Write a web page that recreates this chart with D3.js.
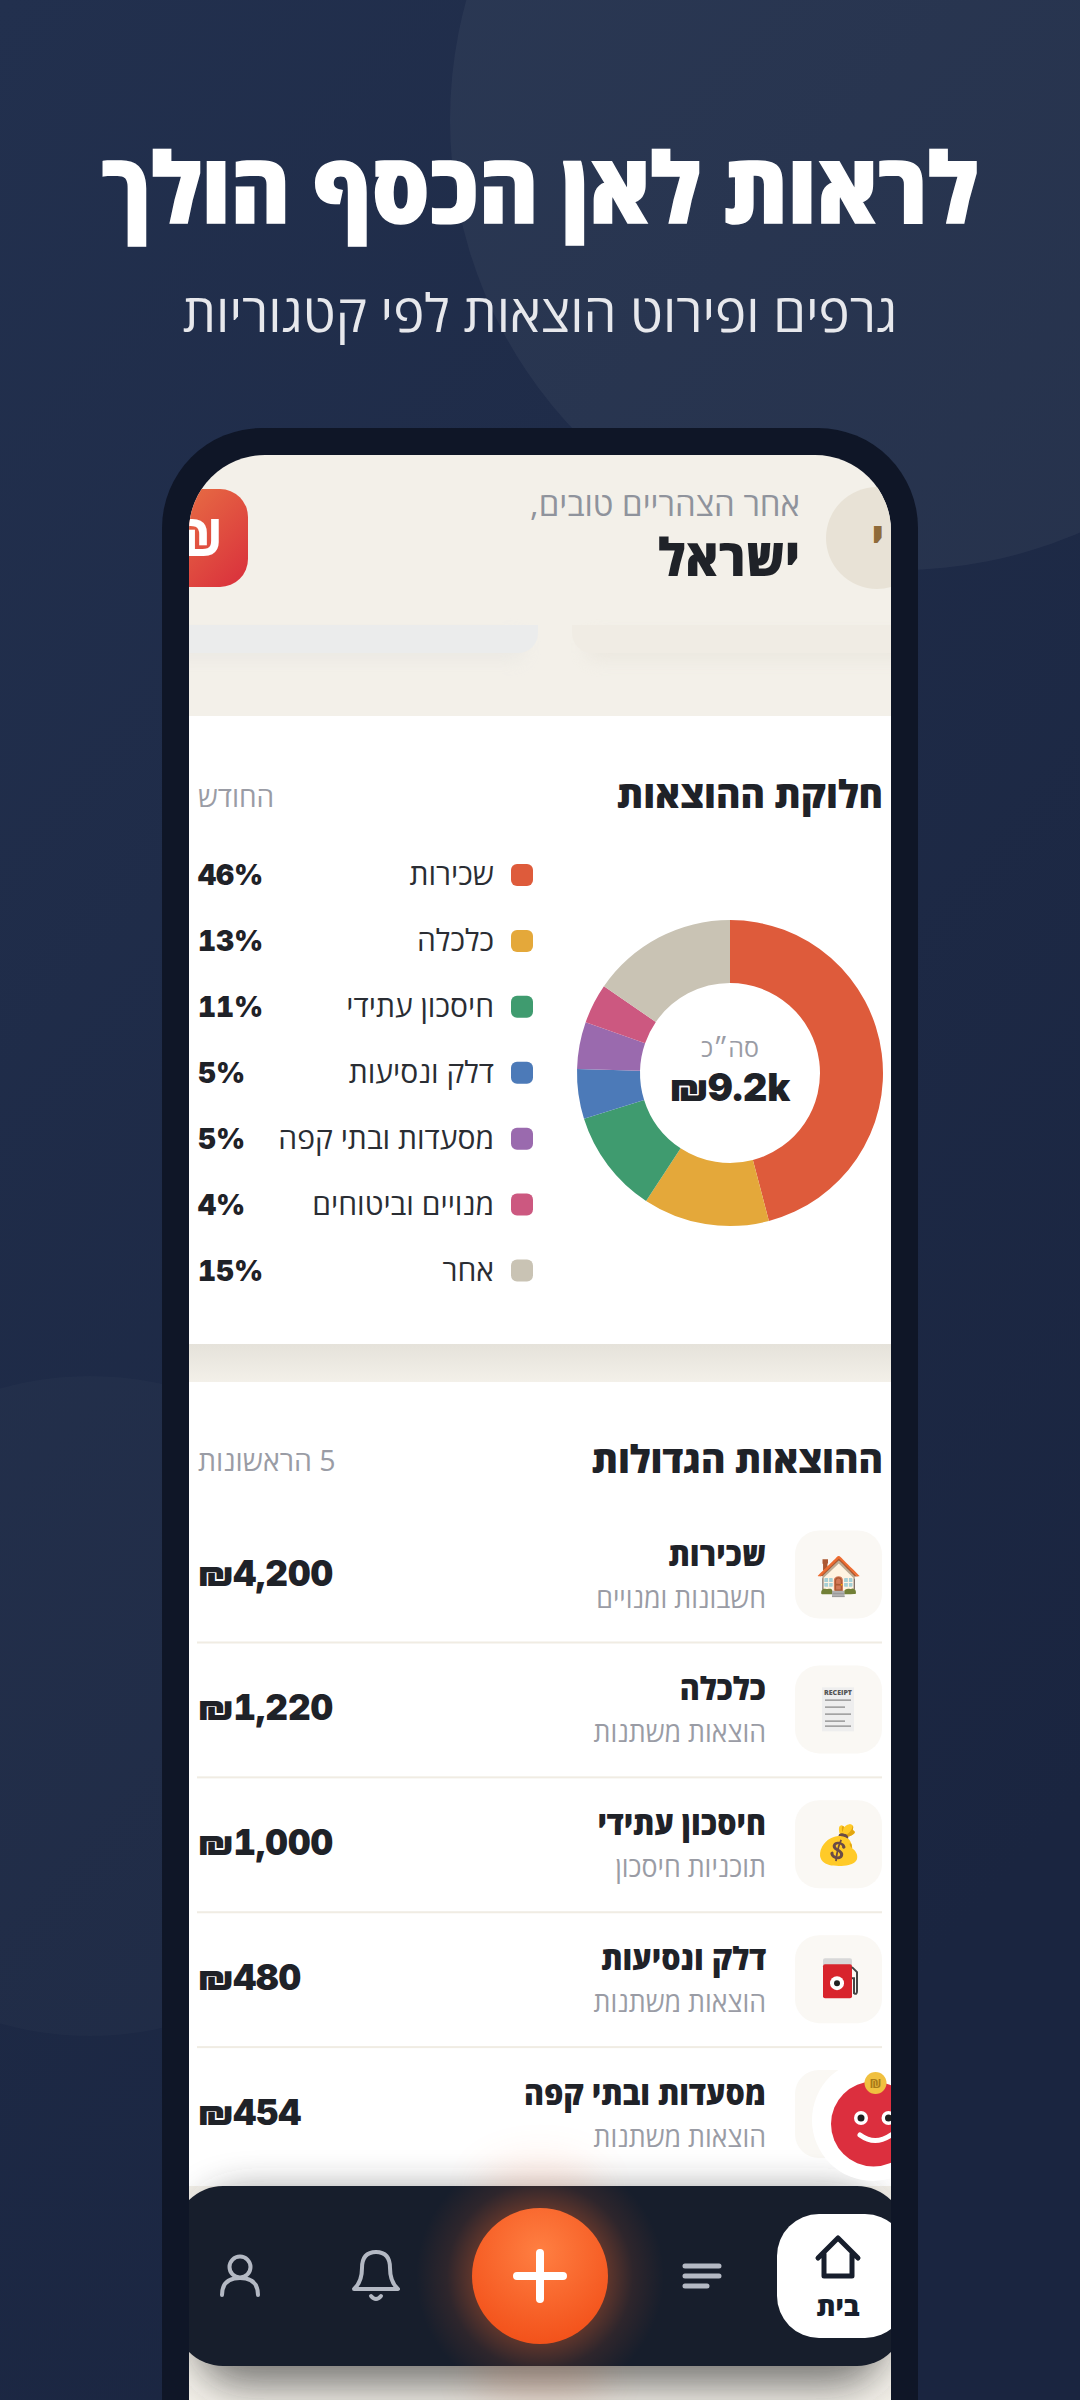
<!DOCTYPE html>
<html lang="he"><head><meta charset="utf-8">
<script src="https://cdn.jsdelivr.net/npm/d3@7/dist/d3.min.js"></script>
<style>html,body{margin:0;padding:0;background:#1c2743}svg{display:block}text{font-family:"Open Sans","Liberation Sans",sans-serif}.num{font-family:Inter,"Open Sans",sans-serif;font-weight:900;font-variant-numeric:tabular-nums}</style>
</head><body><div id="chart"></div>
<script>
const titleText="לראות לאן הכסף הולך";
const subtitleText="גרפים ופירוט הוצאות לפי קטגוריות";
const greetingText="אחר הצהריים טובים,";
const userName="ישראל";
const donutTitle="חלוקת ההוצאות";
const donutPeriod="החודש";
const centerLabel="סה״כ";
const centerValue="₪9.2k";
const categories=["שכירות","כלכלה","חיסכון עתידי","דלק ונסיעות","מסעדות ובתי קפה","מנויים וביטוחים","אחר"];
const values=[4200,1220,1000,480,454,385,1410];
const percentLabels=["46%","13%","11%","5%","5%","4%","15%"];
const colors=["#de5b3b","#e4a83a","#3f9b6f","#4c7ab8","#9a6aae","#cc5880","#c9c3b4"];
const listTitle="ההוצאות הגדולות";
const listNote="5 הראשונות";
const rowNames=["שכירות","כלכלה","חיסכון עתידי","דלק ונסיעות","מסעדות ובתי קפה"];
const rowSubs=["חשבונות ומנויים","הוצאות משתנות","תוכניות חיסכון","הוצאות משתנות","הוצאות משתנות"];
const rowAmounts=["₪4,200","₪1,220","₪1,000","₪480","₪454"];
const rowEmoji=["🏠","","💰","",""];
const navHome="בית";

const W=1080,H=2400;
const svg=d3.select("#chart").append("svg").attr("width",W).attr("height",H).attr("viewBox",`0 0 ${W} ${H}`);
const defs=svg.append("defs");
const lg=(id,x1,y1,x2,y2,stops)=>{const g=defs.append("linearGradient").attr("id",id).attr("x1",x1).attr("y1",y1).attr("x2",x2).attr("y2",y2);stops.forEach(s=>g.append("stop").attr("offset",s[0]).attr("stop-color",s[1]).attr("stop-opacity",s[2]===undefined?1:s[2]));};
lg("bg",0,0,0.5,1,[[0,"#22304e"],[1,"#1a2540"]]);
lg("icon",0,0,1,1,[[0,"#ea7a45"],[1,"#d92e3c"]]);
lg("gap",0,0,0,1,[[0,"#e5e2da"],[1,"#f3f0e9"]]);
const rg=defs.append("radialGradient").attr("id","fab").attr("cx",0.5).attr("cy",0.32).attr("r",0.72);
rg.append("stop").attr("offset",0).attr("stop-color","#ff7f42");rg.append("stop").attr("offset",1).attr("stop-color","#f24f18");
const glow=defs.append("radialGradient").attr("id","glow");
[[0.55,0.3],[0.75,0.1],[1,0]].forEach(s=>glow.append("stop").attr("offset",s[0]).attr("stop-color","#ff6a2c").attr("stop-opacity",s[1]));
const blur=(id,sd)=>defs.append("filter").attr("id",id).attr("x","-40%").attr("y","-80%").attr("width","180%").attr("height","260%").append("feGaussianBlur").attr("stdDeviation",sd);
blur("blur",9);blur("blurNav",20);
defs.append("clipPath").attr("id","screen").append("rect").attr("x",189).attr("y",455).attr("width",702).attr("height",2100).attr("rx",76);

svg.append("rect").attr("width",W).attr("height",H).attr("fill","url(#bg)");
svg.append("circle").attr("cx",900).attr("cy",120).attr("r",450).attr("fill","#ffffff").attr("opacity",0.045);
svg.append("circle").attr("cx",90).attr("cy",1706).attr("r",330).attr("fill","#ffffff").attr("opacity",0.018);

// right-aligned or centred Hebrew text, squeezed horizontally by sx about its anchor
const heb=(sel,x,y,t,size,weight,fill,anchor,sx)=>sel.append("text").attr("transform",`translate(${x},${y}) scale(${sx||1},1)`).attr("direction","rtl").attr("text-anchor",anchor||"start").attr("font-size",size).attr("font-weight",weight).attr("fill",fill).text(t);
heb(svg,540,223,titleText,97,800,"#ffffff","middle",0.935).attr("stroke","#ffffff").attr("stroke-width",1.5);
heb(svg,540,332,subtitleText,52.5,500,"#e7e8ec","middle");

svg.append("rect").attr("x",162).attr("y",428).attr("width",756).attr("height",2100).attr("rx",100).attr("fill","#0f1627");
const sc=svg.append("g").attr("clip-path","url(#screen)");
sc.append("rect").attr("x",189).attr("y",455).attr("width",702).attr("height",1945).attr("fill","#f3f0e9");

// header
sc.append("circle").attr("cx",877).attr("cy",538).attr("r",51).attr("fill","#e8e2d6");
heb(sc,884,552,"י",40,800,"#8f6b3a");
sc.append("rect").attr("x",150).attr("y",489).attr("width",98).attr("height",98).attr("rx",28).attr("fill","url(#icon)");
sc.append("text").attr("x",197).attr("y",556).attr("text-anchor","middle").attr("font-size",52).attr("font-weight",800).attr("fill","#fff").text("₪");
heb(sc,800,516,greetingText,33,400,"#8f939c");
heb(sc,800,576,userName,52,800,"#1f2228","start",0.95);
// clipped cards
sc.append("rect").attr("x",165).attr("y",636).attr("width",360).attr("height",24).attr("rx",12).attr("fill","#d8d8d8").attr("opacity",0.3).attr("filter","url(#blur)");
sc.append("rect").attr("x",585).attr("y",636).attr("width",330).attr("height",24).attr("rx",12).attr("fill","#e0dbd0").attr("opacity",0.4).attr("filter","url(#blur)");
sc.append("path").attr("d","M160 625H538V633a20 20 0 0 1-20 20H160Z").attr("fill","#ebecec");
sc.append("path").attr("d","M572 625H900V653H592a20 20 0 0 1-20-20Z").attr("fill","#f0ece4");

// donut card
sc.append("rect").attr("x",189).attr("y",716).attr("width",702).attr("height",628).attr("fill","#ffffff");
sc.append("rect").attr("x",189).attr("y",1344).attr("width",702).attr("height",38).attr("fill","url(#gap)");
heb(sc,883,808,donutTitle,38,800,"#1f2228","start",0.98);
heb(sc,198,807,donutPeriod,28,400,"#9a9ca5","end");

const pie=d3.pie().sort(null).value(d=>d)(values);
const arc=d3.arc().innerRadius(90).outerRadius(153);
const donut=sc.append("g").attr("transform","translate(730,1073)");
donut.selectAll("path").data(pie).join("path").attr("d",arc).attr("fill",(d,i)=>colors[i]);
donut.append("text").attr("y",-16).attr("text-anchor","middle").attr("font-size",25).attr("fill","#9a9ca5").attr("direction","rtl").text(centerLabel);
donut.append("text").attr("class","num").attr("y",28).attr("text-anchor","middle").attr("font-size",38).attr("fill","#1f2228").text(centerValue);

const yLegend=d3.scalePoint().domain(categories).range([875,1270.5]);
const legend=sc.selectAll("g.leg").data(categories).join("g").attr("class","leg").attr("transform",d=>`translate(0,${yLegend(d)})`);
legend.append("rect").attr("x",511).attr("y",-11).attr("width",22).attr("height",22).attr("rx",6).attr("fill",(d,i)=>colors[i]);
legend.append("text").attr("x",494).attr("y",10).attr("direction","rtl").attr("font-size",30).attr("fill","#2a2d33").text(d=>d);
legend.append("text").attr("class","num").attr("x",198).attr("y",10).attr("font-size",28).attr("fill","#1f2228").text((d,i)=>percentLabels[i]);

// list card
sc.append("rect").attr("x",189).attr("y",1382).attr("width",702).attr("height",804).attr("fill","#ffffff");
heb(sc,883,1473,listTitle,38,800,"#1f2228","start",0.98);
heb(sc,198,1471,listNote,28.5,400,"#9a9ca5","end");
const yRow=d3.scalePoint().domain(rowNames).range([1574.5,2114]);
const rows=sc.selectAll("g.row").data(rowNames).join("g").attr("class","row").attr("transform",d=>`translate(0,${yRow(d)})`);
rows.append("rect").attr("x",795).attr("y",-44).attr("width",87).attr("height",88).attr("rx",24).attr("fill","#faf8f4");
rows.append("text").attr("x",838).attr("y",14).attr("text-anchor","middle").attr("font-size",38).text((d,i)=>rowEmoji[i]);
rows.each(function(d,i){const g=d3.select(this);
  heb(g,766,-9,d,32,800,"#1f2228","start",0.95);
  heb(g,766,33,rowSubs[i],28,400,"#9a9ca5","start",0.955);
});
rows.append("text").attr("class","num").attr("x",198).attr("y",11).attr("font-size",35).attr("fill","#1f2228").text((d,i)=>rowAmounts[i]);
rows.filter((d,i)=>i<rowNames.length-1).append("rect").attr("x",197).attr("y",67).attr("width",685).attr("height",2).attr("fill","#f0ece3");

// receipt icon, row 2
const rc=sc.append("g").attr("transform",`translate(838,${yRow(rowNames[1])})`);
rc.append("rect").attr("x",-16).attr("y",-22).attr("width",32).attr("height",44).attr("fill","#eeeeee");
rc.append("text").attr("y",-14).attr("text-anchor","middle").attr("font-size",7).attr("font-weight",800).attr("fill","#555").text("RECEIPT");
[-10,-3,4,11,16].forEach((dy,i)=>{rc.append("rect").attr("x",-13).attr("y",dy).attr("width",i%2?20:26).attr("height",1.5).attr("fill","#999");});
// fuel pump icon, row 4
const fp=sc.append("g").attr("transform",`translate(838,${yRow(rowNames[3])})`);
fp.append("rect").attr("x",-15).attr("y",-21).attr("width",29).attr("height",9).attr("rx",2).attr("fill","#d8d8d8");
fp.append("rect").attr("x",-15).attr("y",-15).attr("width",29).attr("height",34).attr("rx",2).attr("fill","#d8242c");
fp.append("circle").attr("cx",-1).attr("cy",4).attr("r",7).attr("fill","#fff");
fp.append("circle").attr("cx",-1).attr("cy",4).attr("r",3).attr("fill","#222");
fp.append("path").attr("d","M14 -12L19 -7V12Q19 16 16 14V-1H14").attr("fill","none").attr("stroke","#444").attr("stroke-width",2);

// shadow of the nav bar and soft glows
sc.append("rect").attr("x",195).attr("y",2195).attr("width",690).attr("height",190).attr("rx",48).attr("fill","#2c2c2c").attr("opacity",0.62).attr("filter","url(#blurNav)");
sc.append("ellipse").attr("cx",540).attr("cy",2190).attr("rx",60).attr("ry",30).attr("fill","#ff7a45").attr("opacity",0.14).attr("filter","url(#blurNav)");
sc.append("ellipse").attr("cx",540).attr("cy",2376).attr("rx",70).attr("ry",26).attr("fill","#b5552c").attr("opacity",0.18).attr("filter","url(#blurNav)");

// mascot
sc.append("circle").attr("cx",873).attr("cy",2120).attr("r",61).attr("fill","#ffffff");
sc.append("circle").attr("cx",873.5).attr("cy",2124).attr("r",42.5).attr("fill","#dc2f3e");
sc.append("circle").attr("cx",875.5).attr("cy",2083).attr("r",11).attr("fill","#f0c040");
sc.append("text").attr("x",875.5).attr("y",2088).attr("text-anchor","middle").attr("font-size",13).attr("font-weight",700).attr("fill","#a87a18").text("₪");
[861,888.5].forEach(x=>{sc.append("circle").attr("cx",x).attr("cy",2118).attr("r",7).attr("fill","#fff");sc.append("circle").attr("cx",x).attr("cy",2118).attr("r",3.5).attr("fill","#1f1f1f");});
sc.append("path").attr("d","M860 2135Q875 2146 891 2135").attr("fill","none").attr("stroke","#fff").attr("stroke-width",5).attr("stroke-linecap","round");

// nav
sc.append("rect").attr("x",175).attr("y",2186).attr("width",730).attr("height",180).attr("rx",48).attr("fill","#171e2c");
defs.append("clipPath").attr("id","nav").append("rect").attr("x",175).attr("y",2186).attr("width",730).attr("height",180).attr("rx",48);
sc.append("g").attr("clip-path","url(#nav)").append("circle").attr("cx",540).attr("cy",2276).attr("r",124).attr("fill","url(#glow)");
sc.append("circle").attr("cx",540).attr("cy",2276).attr("r",68).attr("fill","url(#fab)");
sc.append("path").attr("d","M517 2276H563M540 2253V2299").attr("stroke","#fff").attr("stroke-width",8).attr("stroke-linecap","round");
sc.append("rect").attr("x",777).attr("y",2214).attr("width",130).attr("height",124).attr("rx",42).attr("fill","#fff");
sc.append("path").attr("d","M818 2258L838 2238L858 2258M824 2254V2276H852V2254").attr("fill","none").attr("stroke","#171e2c").attr("stroke-width",5).attr("stroke-linejoin","round").attr("stroke-linecap","round");
heb(sc,838,2316,navHome,27,800,"#171e2c","middle");
sc.append("path").attr("d","M685 2266H719M685 2276H719M685 2286H707").attr("stroke","#b4b9c4").attr("stroke-width",5).attr("stroke-linecap","round");
sc.append("path").attr("d","M354 2289Q362 2282 362 2268Q362 2252 376 2252Q390 2252 390 2268Q390 2282 398 2289Z").attr("fill","none").attr("stroke","#b4b9c4").attr("stroke-width",4).attr("stroke-linejoin","round");
sc.append("path").attr("d","M371 2296Q376 2302 381 2296").attr("fill","none").attr("stroke","#b4b9c4").attr("stroke-width",4).attr("stroke-linecap","round");
sc.append("circle").attr("cx",240).attr("cy",2267).attr("r",10.5).attr("fill","none").attr("stroke","#b4b9c4").attr("stroke-width",4);
sc.append("path").attr("d","M222 2295Q222 2278 240 2278Q258 2278 258 2295").attr("fill","none").attr("stroke","#b4b9c4").attr("stroke-width",4).attr("stroke-linecap","round");
</script></body></html>
